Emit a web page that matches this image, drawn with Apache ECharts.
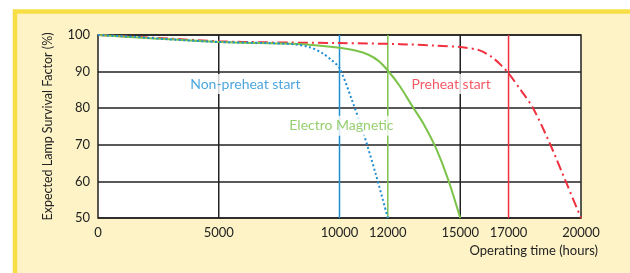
<!DOCTYPE html>
<html lang="en">
<head>
    <meta charset="UTF-8">
    <title>Expected Lamp Survival Factor</title>
    <script src="https://cdn.jsdelivr.net/npm/echarts@6.0.0/dist/echarts.min.js"></script>
    <style>
        html, body { margin: 0; padding: 0; background: #ffffff; }
    </style>
</head>
<body>
<div id="chart" style="width: 630px; height: 273px;"></div>

<script>
    // curves: operating hours vs survival %
    var nonPreheatX = [0, 1500, 3000, 5000, 7000, 8200, 8800, 9300, 9700, 10000, 10500, 11000, 11500, 12000];
    var nonPreheatY = [100, 99.5, 98.8, 98.1, 97.8, 97.4, 96.6, 95, 93, 91, 82.5, 73, 62, 50];

    var electroX = [0, 2000, 5000, 8000, 9000, 10000, 10700, 11200, 11600, 12000, 12500, 13000, 13500, 14000, 14500, 15000];
    var electroY = [100, 99.2, 98.1, 97.6, 97.2, 96.5, 95.7, 94.6, 93, 90.3, 86, 80.7, 75.5, 69, 60.5, 50];

    var preheatX = [0, 3000, 5000, 7000, 10000, 12500, 14000, 15000, 15800, 16300, 16700, 17000, 17500, 18000, 18700, 19400, 20000];
    var preheatY = [100, 99, 98.3, 98, 97.8, 97.5, 97.1, 96.7, 95.8, 94, 91.7, 89.5, 85, 80.2, 70.5, 59.5, 50];

    // reference lines (hours at 90%)
    var refHours = [10000, 12000, 17000];
    var gridHours = [5000, 15000];
    var xTickLabels = [0, 5000, 10000, 12000, 15000, 17000, 20000];

    // curve labels
    var labelNames = ['Non-preheat start', 'Electro Magnetic', 'Preheat start'];
    var labelX = [6100, 10080, 14620];
    var labelY = [86.6, 75.2, 86.6];

    var blue = '#1f8ed3', green = '#7cc34a', red = '#f0303f';
    var colors = [blue, green, red];

    function pairs(xs, ys) {
        return xs.map(function (x, i) { return [x, ys[i]]; });
    }

    var series = [];

    // black vertical grid lines
    gridHours.forEach(function (h) {
        series.push({
            type: 'line', silent: true, symbol: 'none', z: 1,
            data: [[h, 50], [h, 100]],
            lineStyle: {color: '#222222', width: 1.5}
        });
    });

    // coloured reference lines
    refHours.forEach(function (h, i) {
        series.push({
            type: 'line', silent: true, symbol: 'none', z: 2,
            data: [[h, 50], [h, 100]],
            lineStyle: {color: colors[i], width: 1.5}
        });
    });

    series.push({
        type: 'line', symbol: 'none', smooth: 0.3, z: 3,
        data: pairs(preheatX, preheatY),
        lineStyle: {color: red, width: 2, type: [10, 4, 2, 4]}
    });
    series.push({
        type: 'line', symbol: 'none', smooth: 0.3, z: 4,
        data: pairs(electroX, electroY),
        lineStyle: {color: green, width: 2}
    });
    series.push({
        type: 'line', symbol: 'none', smooth: 0.3, z: 5,
        data: pairs(nonPreheatX, nonPreheatY),
        lineStyle: {color: blue, width: 2, type: [2, 2.5]}
    });

    // curve names on a white patch
    series.push({
        type: 'scatter', symbolSize: 0, z: 10, silent: true,
        data: labelNames.map(function (n, i) {
            return {
                value: [labelX[i], labelY[i]],
                label: {
                    show: true, position: 'inside', formatter: n,
                    color: colors[i], fontFamily: 'Lato', fontSize: 14,
                    backgroundColor: '#ffffff', padding: [3, 1]
                }
            };
        })
    });

    var chart = echarts.init(document.getElementById('chart'));
    chart.setOption({
        backgroundColor: '#ffffff',
        animation: false,
        graphic: [{
            type: 'rect', z: -100, silent: true,
            shape: {x: 15, y: 11.5, width: 700, height: 400},
            style: {fill: '#fdf3c6', stroke: '#f7de45', lineWidth: 4.5}
        }],
        grid: {
            left: 98, top: 35, width: 483, height: 183,
            show: true, backgroundColor: '#ffffff',
            borderColor: '#222222', borderWidth: 1.5
        },
        xAxis: {
            type: 'value', min: 0, max: 20000, interval: 1000,
            axisLine: {show: false}, axisTick: {show: false},
            splitLine: {show: false},
            axisLabel: {
                margin: 8, color: '#222', fontFamily: 'Lato', fontSize: 13,
                formatter: function (v) {
                    return xTickLabels.indexOf(v) >= 0 ? String(v) : '';
                }
            },
            name: 'Operating time (hours)', nameLocation: 'end', nameGap: 17,
            nameTextStyle: {
                color: '#222', fontFamily: 'Lato', fontSize: 13,
                align: 'right', verticalAlign: 'top', padding: [26, 0, 0, 0]
            }
        },
        yAxis: {
            type: 'value', min: 50, max: 100, interval: 10,
            axisLine: {show: false}, axisTick: {show: false},
            splitLine: {show: true, lineStyle: {color: '#222222', width: 1.5}},
            axisLabel: {margin: 8, color: '#222', fontFamily: 'Lato', fontSize: 13},
            name: 'Expected Lamp Survival Factor (%)', nameLocation: 'middle', nameGap: 44,
            nameTextStyle: {color: '#222', fontFamily: 'Lato', fontSize: 12.5}
        },
        series: series
    });
</script>
</body>
</html>
